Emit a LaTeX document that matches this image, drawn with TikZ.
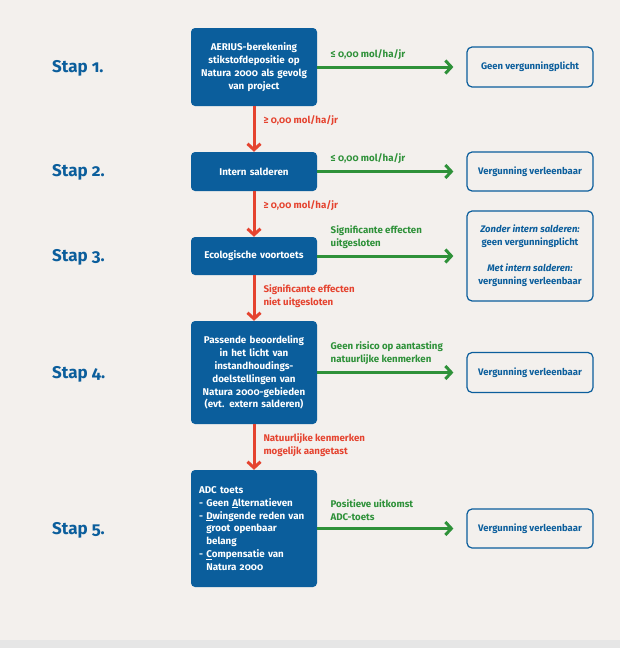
\documentclass[tikz,border=0pt]{standalone}
\usepackage{fontspec}
\setmainfont{Fira Sans}[Numbers=OldStyle]
\usetikzlibrary{arrows.meta}
\usetikzlibrary{positioning}

\definecolor{rijksblauw}{HTML}{0B5E9C}
\definecolor{achtergrond}{HTML}{F3F0ED}
\definecolor{jagroen}{HTML}{2E9139}
\definecolor{neerood}{HTML}{E5432F}
\definecolor{randgrijs}{HTML}{E6E6E6}

\tikzset{
  stapbox/.style={rectangle,rounded corners=4pt,fill=rijksblauw,text=white,
    font=\bfseries\fontsize{9.8}{12.9}\selectfont,align=center,
    minimum width=126pt,text width=120pt,inner sep=0pt},
  uitkomst/.style={rectangle,rounded corners=5pt,draw=rijksblauw,line width=1.2pt,
    fill=achtergrond,text=rijksblauw,font=\bfseries\fontsize{9.5}{12.9}\selectfont,
    align=center,minimum width=126pt,inner sep=0pt},
  staplabel/.style={anchor=west,text=rijksblauw,font=\bfseries\fontsize{17}{20}\selectfont,inner sep=0pt},
  ja/.style={draw=jagroen,line width=3pt,-{Straight Barb[length=6pt,width=13pt]},shorten >=13pt},
  nee/.style={draw=neerood,line width=3pt,-{Straight Barb[length=6pt,width=13pt]}},
  jalabel/.style={anchor=south west,text=jagroen,font=\bfseries\fontsize{9.7}{12.9}\selectfont,
    align=left,inner sep=0pt,xshift=12pt,yshift=6pt},
  neelabel/.style={anchor=north west,text=neerood,font=\bfseries\fontsize{9.7}{12.9}\selectfont,
    align=left,inner sep=0pt,xshift=8pt,yshift=-8pt}
}

\begin{document}
\begin{tikzpicture}[x=1pt,y=-1pt]
\fill[achtergrond] (0,0) rectangle (620,648);
\fill[randgrijs] (0,640) rectangle (620,648);
\useasboundingbox (0,0) rectangle (620,648);

\node[staplabel] (s1) at (52,68) {Stap 1.};
\node[staplabel] (s2) at (52,172.5) {Stap 2.};
\node[staplabel] (s3) at (52,257) {Stap 3.};
\node[staplabel] (s4) at (52,374) {Stap 4.};
\node[staplabel] (s5) at (52,530.5) {Stap 5.};

\node[stapbox,minimum height=78pt] (b1) at (254,67) {AERIUS-berekening\\stikstofdepositie op\\Natura 2000 als gevolg\\van project};
\node[stapbox,minimum height=39pt] (b2) at (254,171.5) {Intern salderen};
\node[stapbox,minimum height=38pt] (b3) at (254,256) {Ecologische voortoets};
\node[stapbox,minimum height=103pt] (b4) at (254,372.5) {Passende beoordeling\\in het licht van\\instandhoudings-\\doelstellingen van\\Natura 2000-gebieden\\(evt. extern salderen)};
\node[stapbox,minimum height=117pt,align=left,text width=110pt] (b5) at (254,528.5) {ADC toets\\- Geen \underline{A}lternatieven\\- \underline{D}wingende reden van\\\phantom{- }groot openbaar\\\phantom{- }belang\\- \underline{C}ompensatie van\\\phantom{- }Natura 2000};

\node[uitkomst,minimum height=40pt] (r1) at (530,67) {Geen vergunningplicht};
\node[uitkomst,minimum height=39pt] (r2) at (530,171.5) {Vergunning verleenbaar};
\node[uitkomst,minimum height=90pt] (r3) at (530,256) {\textit{Zonder intern salderen:}\\geen vergunningplicht\\[12.9pt]\textit{Met intern salderen:}\\vergunning verleenbaar};
\node[uitkomst,minimum height=40pt] (r4) at (530,372.5) {Vergunning verleenbaar};
\node[uitkomst,minimum height=39pt] (r5) at (530,528.5) {Vergunning verleenbaar};

\draw[ja] (b1) -- (r1) node[jalabel,pos=0] {≤ 0,00 mol/ha/jr};
\draw[ja] (b2) -- (r2) node[jalabel,pos=0] {≤ 0,00 mol/ha/jr};
\draw[ja] (b3) -- (r3) node[jalabel,pos=0] {Significante effecten\\uitgesloten};
\draw[ja] (b4) -- (r4) node[jalabel,pos=0] {Geen risico op aantasting\\natuurlijke kenmerken};
\draw[ja] (b5) -- (r5) node[jalabel,pos=0] {Positieve uitkomst\\ADC-toets};

\draw[nee] (b1) -- (b2) node[neelabel,pos=0] {≥ 0,00 mol/ha/jr};
\draw[nee] (b2) -- (b3) node[neelabel,pos=0] {≥ 0,00 mol/ha/jr};
\draw[nee] (b3) -- (b4) node[neelabel,pos=0] {Significante effecten\\niet uitgesloten};
\draw[nee] (b4) -- (b5) node[neelabel,pos=0] {Natuurlijke kenmerken\\mogelijk aangetast};

\end{tikzpicture}
\end{document}
